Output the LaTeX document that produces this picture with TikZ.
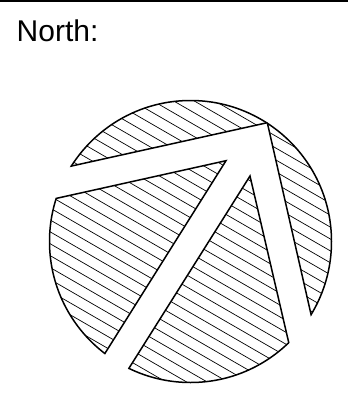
\documentclass[tikz,border=0pt]{standalone}
\usepackage{fontspec}
\setmainfont{Liberation Sans}
\usetikzlibrary{calc}

\begin{document}
\begin{tikzpicture}[
    x=1pt, y=-1pt,
    rim/.style={draw, line width=1.5pt},
    hatch/.style={line width=0.7pt},
    arrowline/.style={line width=1.5pt, line join=miter},
    heading/.style={font=\fontsize{30}{36}\selectfont, anchor=base west, inner sep=0pt}
]
    \useasboundingbox (0,0) rectangle (348,416);
    \draw[line width=2.4pt] (0,1.2) -- (348,1.2);
    \node[heading] (north) at (16.5,41) {North:};

    % circle and arrow corners
    \coordinate (c) at (190.5,241.5);
    \def\rad{141}
    \coordinate (tip) at (267.3,122.7);
    \coordinate (la) at (71.7,166);
    \coordinate (lb) at (56.7,198.3);
    \coordinate (lc) at (226,160.7);
    \coordinate (sd) at (105,353.3);
    \coordinate (se) at (129.3,367.7);
    \coordinate (rf) at (250,176);
    \coordinate (rg) at (289.3,345);
    \coordinate (rh) at (311.7,317.3);

    % hatching
    \begin{scope}
        \clip (c) circle (\rad);
        \foreach \k in {-15,...,15}
            \draw[hatch] ($(c)+(-5.15*\k,8.92*\k)+(-155.9,-90)$) -- ++(311.8,180);
    \end{scope}
    \draw[rim] (c) circle (\rad);

    % white arrow
    \fill[white] (tip) -- ($(tip)!1.3!(la)$) -- ($(lc)!1.3!(lb)$) -- (lc)
        -- ($(lc)!1.2!(sd)$) -- ($(rf)!1.2!(se)$) -- (rf)
        -- ($(rf)!1.3!(rg)$) -- ($(tip)!1.3!(rh)$) -- cycle;
    \begin{scope}
        \clip (c) circle (\rad+0.7);
        \draw[arrowline] ($(tip)!1.3!(la)$) -- (tip) -- ($(tip)!1.3!(rh)$);
        \draw[arrowline] ($(lc)!1.3!(lb)$) -- (lc) -- ($(lc)!1.2!(sd)$);
        \draw[arrowline] ($(rf)!1.2!(se)$) -- (rf) -- ($(rf)!1.3!(rg)$);
    \end{scope}
\end{tikzpicture}
\end{document}
